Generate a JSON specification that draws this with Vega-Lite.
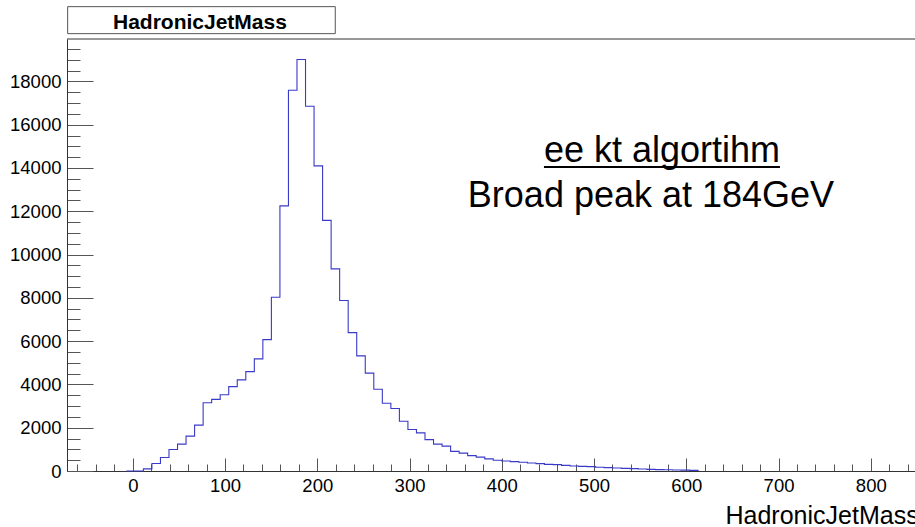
{
  "$schema": "https://vega.github.io/schema/vega-lite/v6.json",
  "width": 848,
  "height": 432,
  "autosize": {"type": "none"},
  "padding": {"left": 67, "top": 39, "right": 0, "bottom": 56},
  "background": "white",
  "config": {
    "font": "Liberation Sans",
    "view": {"stroke": null}
  },
  "layer": [
    {
      "data": {
        "values": [
          {"edge": -7, "count": 0},
          {"edge": 2.25, "count": 0},
          {"edge": 11.5, "count": 100},
          {"edge": 20.75, "count": 350},
          {"edge": 30, "count": 625},
          {"edge": 39.25, "count": 995},
          {"edge": 48.5, "count": 1240},
          {"edge": 57.75, "count": 1610},
          {"edge": 67, "count": 2120},
          {"edge": 76.25, "count": 3150},
          {"edge": 85.5, "count": 3310},
          {"edge": 94.75, "count": 3520},
          {"edge": 104, "count": 3900},
          {"edge": 113.25, "count": 4210},
          {"edge": 122.5, "count": 4590},
          {"edge": 131.75, "count": 5180},
          {"edge": 141, "count": 6070},
          {"edge": 150.25, "count": 8030},
          {"edge": 159.5, "count": 12250},
          {"edge": 168.75, "count": 17590},
          {"edge": 178, "count": 19010},
          {"edge": 187.25, "count": 16850},
          {"edge": 196.5, "count": 14100},
          {"edge": 205.75, "count": 11580},
          {"edge": 215, "count": 9340},
          {"edge": 224.25, "count": 7880},
          {"edge": 233.5, "count": 6395},
          {"edge": 242.75, "count": 5320},
          {"edge": 252, "count": 4520},
          {"edge": 261.25, "count": 3780},
          {"edge": 270.5, "count": 3130},
          {"edge": 279.75, "count": 2890},
          {"edge": 289, "count": 2300},
          {"edge": 298.25, "count": 1920},
          {"edge": 307.5, "count": 1760},
          {"edge": 316.75, "count": 1450},
          {"edge": 326, "count": 1240},
          {"edge": 335.25, "count": 1150},
          {"edge": 344.5, "count": 905},
          {"edge": 353.75, "count": 825},
          {"edge": 363, "count": 710},
          {"edge": 372.25, "count": 640},
          {"edge": 381.5, "count": 560},
          {"edge": 390.75, "count": 500},
          {"edge": 400, "count": 462},
          {"edge": 409.25, "count": 431},
          {"edge": 418.5, "count": 401},
          {"edge": 427.75, "count": 370},
          {"edge": 437, "count": 339},
          {"edge": 446.25, "count": 308},
          {"edge": 455.5, "count": 293},
          {"edge": 464.75, "count": 262},
          {"edge": 474, "count": 231},
          {"edge": 483.25, "count": 216},
          {"edge": 492.5, "count": 200},
          {"edge": 501.75, "count": 170},
          {"edge": 511, "count": 154},
          {"edge": 520.25, "count": 139},
          {"edge": 529.5, "count": 123},
          {"edge": 538.75, "count": 108},
          {"edge": 548, "count": 92},
          {"edge": 557.25, "count": 77},
          {"edge": 566.5, "count": 62},
          {"edge": 575.75, "count": 55},
          {"edge": 585, "count": 46},
          {"edge": 594.25, "count": 40},
          {"edge": 603.5, "count": 30},
          {"edge": 612.75, "count": 0}
        ]
      },
      "mark": {"type": "line", "interpolate": "step-after", "color": "#3a3ac8", "strokeWidth": 1.1},
      "encoding": {
        "x": {
          "field": "edge",
          "type": "quantitative",
          "scale": {"domain": [-71.3, 847.9], "nice": false, "zero": false},
          "axis": {
            "values": [-60,-40,-20,0,20,40,60,80,100,120,140,160,180,200,220,240,260,280,300,320,340,360,380,400,420,440,460,480,500,520,540,560,580,600,620,640,660,680,700,720,740,760,780,800,820,840],
            "tickCount": 200,
            "format": "d",
            "labelExpr": "datum.value % 100 === 0 ? datum.label : ''",
            "tickSize": {"condition": {"test": "datum.value % 100 === 0", "value": -13}, "value": -7},
            "labelPadding": 18,
            "labelFontSize": 18.5,
            "labelFont": "Liberation Sans",
            "labelColor": "black",
            "labelFlush": false,
            "labelOverlap": false,
            "tickColor": "#555",
            "domainColor": "#333",
            "grid": false,
            "title": "HadronicJetMass",
            "titleFont": "Liberation Sans",
            "titleFontSize": 25,
            "titleFontWeight": "normal",
            "titleColor": "black",
            "titleAlign": "left",
            "titleAnchor": "start",
            "titleX": 658,
            "titleY": 52,
            "titleBaseline": "alphabetic"
          }
        },
        "y": {
          "field": "count",
          "type": "quantitative",
          "scale": {"domain": [0, 19960], "nice": false, "zero": true},
          "axis": {
            "values": [0,500,1000,1500,2000,2500,3000,3500,4000,4500,5000,5500,6000,6500,7000,7500,8000,8500,9000,9500,10000,10500,11000,11500,12000,12500,13000,13500,14000,14500,15000,15500,16000,16500,17000,17500,18000,18500,19000,19500],
            "tickCount": 200,
            "format": "d",
            "labelExpr": "datum.value % 2000 === 0 ? datum.label : ''",
            "tickSize": {"condition": {"test": "datum.value % 2000 === 0", "value": -26}, "value": -13},
            "labelPadding": 32,
            "labelFontSize": 18.5,
            "labelFont": "Liberation Sans",
            "labelColor": "black",
            "labelFlush": false,
            "labelOverlap": false,
            "tickColor": "#555",
            "domainColor": "#333",
            "grid": false,
            "title": null
          }
        }
      }
    },
    {
      "data": {"values": [{}]},
      "mark": {"type": "rule", "color": "#333", "strokeWidth": 1},
      "encoding": {
        "x": {"datum": -71.3, "type": "quantitative", "title": "HadronicJetMass"},
        "x2": {"datum": 847.9},
        "y": {"datum": 19960, "type": "quantitative", "title": null}
      }
    },
    {
      "data": {"values": [{}]},
      "mark": {"type": "rect", "fill": "white", "stroke": "#555", "strokeWidth": 1, "clip": false},
      "encoding": {
        "x": {"datum": -70.6, "type": "quantitative", "title": "HadronicJetMass"},
        "x2": {"datum": 219.5},
        "y": {"datum": 21455, "type": "quantitative", "title": null},
        "y2": {"datum": 20207}
      }
    },
    {
      "data": {"values": [{}]},
      "mark": {"type": "text", "text": "HadronicJetMass", "font": "Liberation Sans", "fontSize": 21, "fontWeight": "bold", "align": "center", "baseline": "alphabetic", "color": "black"},
      "encoding": {
        "x": {"datum": 72.8, "type": "quantitative", "title": "HadronicJetMass"},
        "y": {"datum": 20420, "type": "quantitative", "title": null}
      }
    },
    {
      "data": {"values": [{}]},
      "mark": {"type": "text", "text": "ee kt algortihm", "font": "Liberation Sans", "fontSize": 36, "align": "center", "baseline": "alphabetic", "color": "black"},
      "encoding": {
        "x": {"datum": 573.7, "type": "quantitative", "title": "HadronicJetMass"},
        "y": {"datum": 14290, "type": "quantitative", "title": null}
      }
    },
    {
      "data": {"values": [{}]},
      "mark": {"type": "rule", "color": "black", "strokeWidth": 2},
      "encoding": {
        "x": {"datum": 445.7, "type": "quantitative", "title": "HadronicJetMass"},
        "x2": {"datum": 701.5},
        "y": {"datum": 14045, "type": "quantitative", "title": null}
      }
    },
    {
      "data": {"values": [{}]},
      "mark": {"type": "text", "text": "Broad peak at 184GeV", "font": "Liberation Sans", "fontSize": 36, "align": "center", "baseline": "alphabetic", "color": "black"},
      "encoding": {
        "x": {"datum": 561.7, "type": "quantitative", "title": "HadronicJetMass"},
        "y": {"datum": 12197, "type": "quantitative", "title": null}
      }
    }
  ]
}
